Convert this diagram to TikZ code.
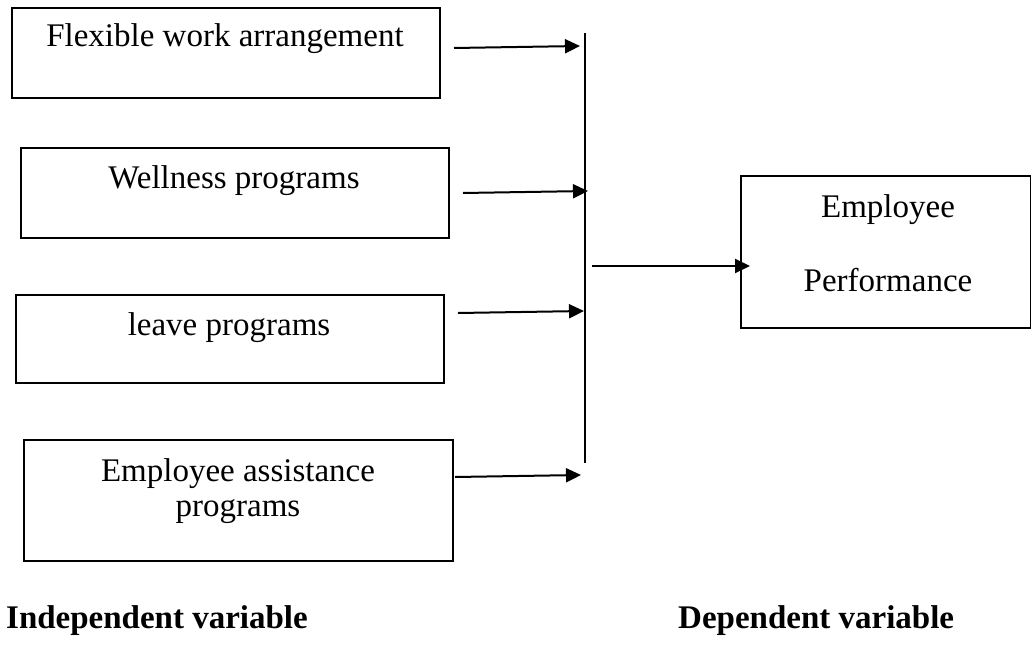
\documentclass[tikz,border=0pt]{standalone}
\usepackage{fontspec}
\setmainfont{Liberation Serif}
\usetikzlibrary{arrows.meta}
\begin{document}
\begin{tikzpicture}[x=1pt,y=-1pt,
  box/.style={draw, line width=2pt, inner sep=0pt, anchor=north west},
  txt/.style={anchor=base, inner sep=0pt, font=\fontsize{33}{40}\selectfont},
  head/.style={anchor=base west, inner sep=0pt, font=\fontsize{33}{40}\selectfont\bfseries},
  arr/.style={line width=2pt, -{Triangle[length=15pt,width=14pt]}},
  bar/.style={line width=2pt}]
\useasboundingbox (0,0) rectangle (1031,661);
% independent variable boxes
\node[box, minimum width=428pt, minimum height=90pt] (b1) at (11,7) {};
\node[box, minimum width=428pt, minimum height=90pt] (b2) at (20,147) {};
\node[box, minimum width=428pt, minimum height=88pt] (b3) at (15,294) {};
\node[box, minimum width=429pt, minimum height=121pt] (b4) at (23,439) {};
% dependent variable box
\node[box, minimum width=290pt, minimum height=152pt] (rb) at (740,175) {};
% texts
\node[txt] (t1) at (225,47) {Flexible work arrangement};
\node[txt] (t2) at (234,188) {Wellness programs};
\node[txt] (t3) at (229,335) {leave programs};
\node[txt] (t4a) at (238,481) {Employee assistance};
\node[txt] (t4b) at (238,516) {programs};
\node[txt] (r1) at (888,217) {Employee};
\node[txt] (r2) at (888,291) {Performance};
\node[head] (h1) at (6,628) {Independent variable};
\node[head] (h2) at (678,628) {Dependent variable};
% vertical collector bar
\coordinate (bartop) at (585,33);
\coordinate (barbot) at (585,463);
\draw[bar] (bartop) -- (barbot);
% arrow start points
\coordinate (s1) at ([xshift=13pt,yshift=-41pt]b1.north east);
\coordinate (s2) at ([xshift=13pt,yshift=-46pt]b2.north east);
\coordinate (s3) at ([xshift=13pt,yshift=-19pt]b3.north east);
\coordinate (s4) at ([xshift=1pt,yshift=-38pt]b4.north east);
\coordinate (s5) at (592,266);
\draw[arr] (s1) -- ([xshift=-5pt,yshift=2pt]s1 -| bartop);
\draw[arr] (s2) -- ([xshift=3pt,yshift=2pt]s2 -| bartop);
\draw[arr] (s3) -- ([xshift=-1pt,yshift=2pt]s3 -| bartop);
\draw[arr] (s4) -- ([xshift=-4pt,yshift=2pt]s4 -| bartop);
\draw[arr] (s5) -- ([xshift=10pt]s5 -| rb.west);
\end{tikzpicture}
\end{document}
